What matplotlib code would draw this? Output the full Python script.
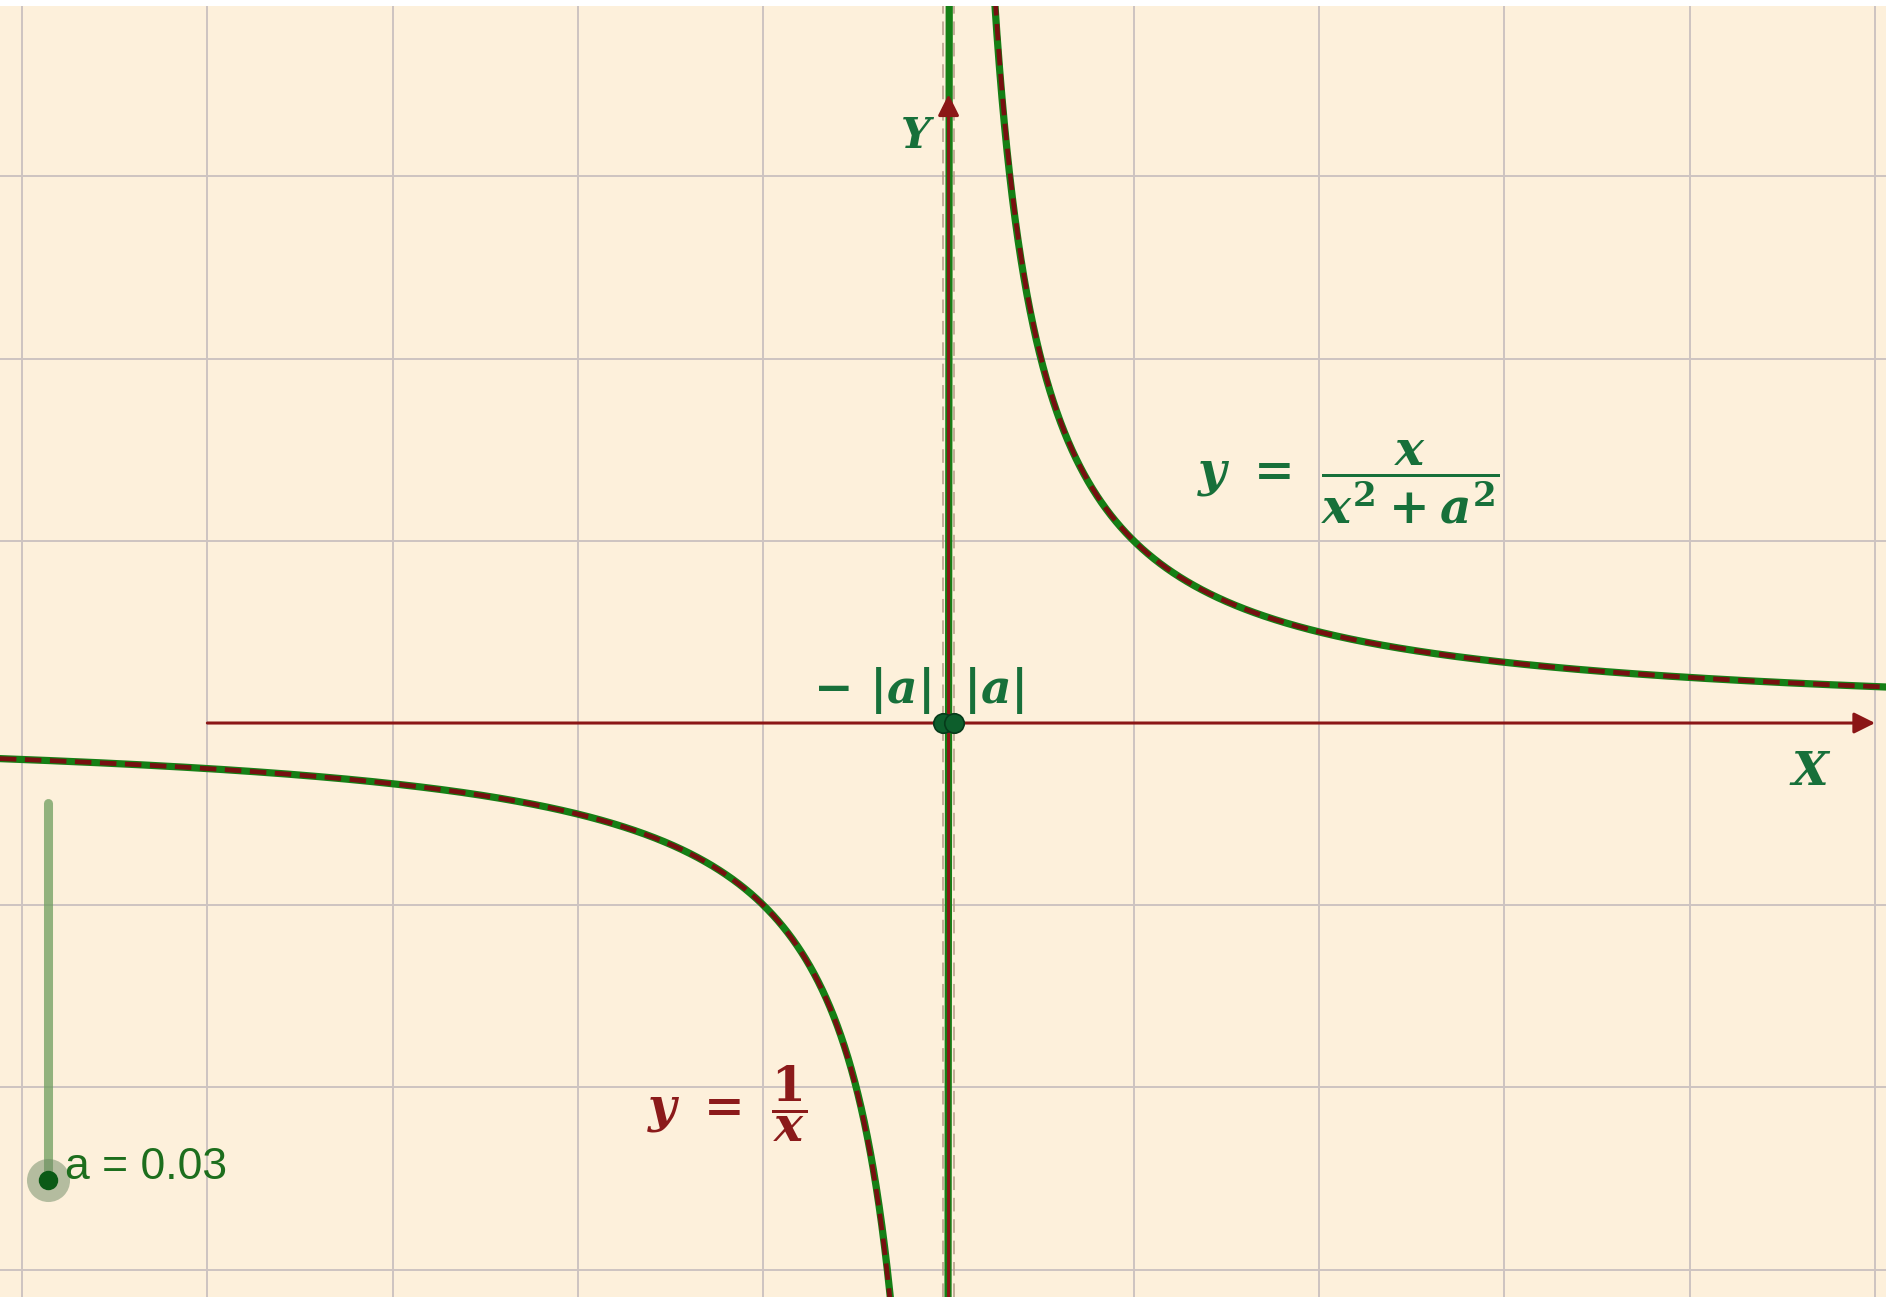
import numpy as np
import matplotlib.pyplot as plt

plt.rcParams['mathtext.fontset'] = 'custom'
plt.rcParams['mathtext.it'] = 'DejaVu Serif:italic:bold'
plt.rcParams['mathtext.rm'] = 'DejaVu Serif:bold'
plt.rcParams['mathtext.bf'] = 'DejaVu Serif:bold'

A = 0.03
grid_x = list(range(-5, 6))
grid_y = list(range(-3, 4))
X_LIM = (-5.119, 5.059)
Y_LIM = (-3.150, 3.935)

BG = '#fdf0db'
GRID = '#cdc3c1'
AXIS_RED = '#8b1616'
CURVE_GREEN = '#157f15'
CURVE_RED = '#761010'
TEXT_GREEN = '#17703a'
TEXT_RED = '#8b1a1a'

# sample points for the two functions
x_inv_left = np.linspace(-5.3, -0.15, 4000)
x_inv_right = np.linspace(0.15, 5.3, 4000)
x_rat = np.concatenate([np.linspace(-5.3, -0.2, 3000),
                        np.linspace(-0.2, 0.2, 20001),
                        np.linspace(0.2, 5.3, 3000)])


def draw():
    fig = plt.figure(figsize=(18.86, 12.97), dpi=100)
    fig.patch.set_facecolor('white')
    ax = fig.add_axes([0, 0, 1, 1291 / 1297])
    ax.set_facecolor(BG)
    for s in ax.spines.values():
        s.set_visible(False)
    ax.set_xticks([])
    ax.set_yticks([])
    ax.set_xlim(*X_LIM)
    ax.set_ylim(*Y_LIM)

    # grid
    for gx in grid_x:
        if gx != 0:
            ax.axvline(gx, color=GRID, lw=1.4, zorder=1)
    for gy in grid_y:
        if gy != 0:
            ax.axhline(gy, color=GRID, lw=1.4, zorder=1)

    # curves
    ax.plot(x_rat, x_rat / (x_rat ** 2 + A ** 2), color=CURVE_GREEN, lw=5.2, zorder=3,
            solid_capstyle='butt')
    for xs in (x_inv_left, x_inv_right):
        ax.plot(xs, 1 / xs, color=CURVE_RED, lw=3.4, zorder=4, dashes=(3.5, 1.8))

    # axes with arrows
    ax.annotate('', xy=(5.0, 0), xytext=(-4.0, 0),
                arrowprops=dict(arrowstyle='-|>', color=AXIS_RED, lw=2.2,
                                mutation_scale=32, shrinkA=0, shrinkB=0), zorder=5)
    ax.annotate('', xy=(0, 3.45), xytext=(0, Y_LIM[0]),
                arrowprops=dict(arrowstyle='-|>', color=AXIS_RED, lw=2.2,
                                mutation_scale=32, shrinkA=0, shrinkB=0), zorder=5)

    # dashed lines at +-|a|
    for xv in (-A, A):
        ax.axvline(xv, color='#b59c88', lw=1.4, dashes=(7, 4), alpha=0.8, zorder=2)

    # points -|a|, |a|
    ax.plot([-A, A], [0, 0], 'o', ms=14, color='#0d5e2c', mec='#063a1a', mew=1.2, zorder=6)

    # labels
    ax.text(-0.17, 3.22, r'$Y$', color=TEXT_GREEN, fontsize=30, ha='center', va='center')
    ax.text(4.65, -0.27, r'$X$', color=TEXT_GREEN, fontsize=34, ha='center', va='center')
    ax.text(-0.10, 0.176, r'$-\ |a|$', color=TEXT_GREEN, fontsize=34, ha='right', va='center')
    ax.text(0.078, 0.176, r'$|a|$', color=TEXT_GREEN, fontsize=34, ha='left', va='center')
    ax.text(1.34, 1.32, r'$y\ =\ \dfrac{x}{x^2+a^2}$', color=TEXT_GREEN, fontsize=35,
            ha='left', va='center')
    ax.text(-1.63, -2.09, r'$y\ =\ \dfrac{1}{x}$', color=TEXT_RED, fontsize=35,
            ha='left', va='center')

    # slider
    tr = ax.transAxes
    ax.plot([0.0255, 0.0255], [0.0906, 0.3827], transform=tr, color='#6f9e5e', alpha=0.75,
            lw=6.5, solid_capstyle='round', zorder=6)
    ax.plot([0.0255], [0.0906], 'o', transform=tr, ms=31, color='#6d8a64', alpha=0.5,
            mew=0, zorder=7)
    ax.plot([0.0255], [0.0906], 'o', transform=tr, ms=14, color='#0b5a16', mew=0, zorder=8)
    ax.text(0.0345, 0.1000, 'a = %.2f' % A, transform=tr, color='#1d6e1d', fontsize=32,
            family='Liberation Sans', ha='left', va='center', zorder=8)

    fig.savefig('out.png', dpi=100, facecolor='white')


draw()
